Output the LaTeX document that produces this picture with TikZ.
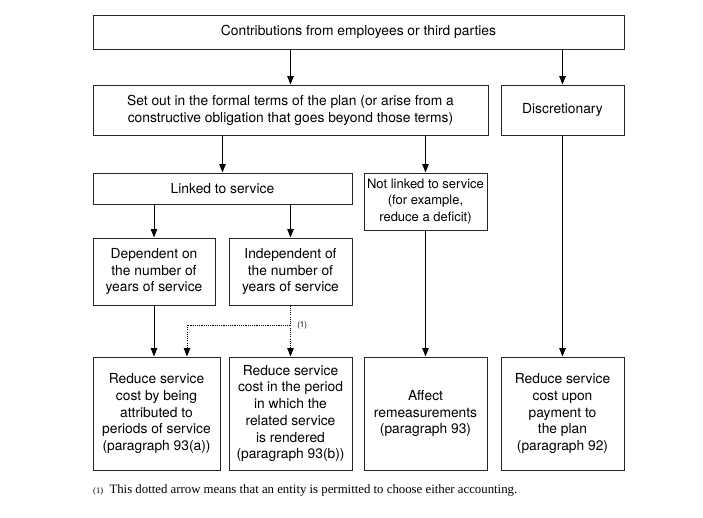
\documentclass[tikz,border=0pt]{standalone}
\usepackage{fontspec}
\setmainfont{TeX Gyre Heros}
\newfontfamily\notefont{Liberation Serif}
\usetikzlibrary{arrows.meta}
\tikzset{
  flowbox/.style={draw=black!85,line width=1pt,align=center,inner sep=1pt,font=\fontsize{13.8}{16.7}\selectfont},
  arr/.style={-{Triangle[length=8.5pt,width=6.5pt]},line width=0.9pt},
  dotarr/.style={arr,dash pattern=on 1.1pt off 1.1pt}
}
\begin{document}
\begin{tikzpicture}[x=1pt,y=-1pt]
    \useasboundingbox (0,0) rectangle (703,517);
    \node[flowbox,minimum width=531pt,minimum height=34pt] (top) at (358.5,32){Contributions from employees or third parties};
    \node[flowbox,minimum width=395pt,minimum height=50pt] (setout) at (290.5,110){Set out in the formal terms of the plan (or arise from a\\constructive obligation that goes beyond those terms)};
    \node[flowbox,minimum width=123pt,minimum height=50pt] (discr) at (562.5,110){Discretionary};
    \node[flowbox,minimum width=259pt,minimum height=31pt] (linked) at (222.5,188.5){Linked to service};
    \node[flowbox,minimum width=123pt,minimum height=57pt,font=\fontsize{13}{16.7}\selectfont] (notlinked) at (425.5,201.5){Not linked to service\\(for example,\\reduce a deficit)};
    \node[flowbox,minimum width=122pt,minimum height=67pt] (dep) at (154,271.5){Dependent on\\the number of\\years of service};
    \node[flowbox,minimum width=123pt,minimum height=67pt] (indep) at (290.5,271.5){Independent of\\the number of\\years of service};
    \node[flowbox,minimum width=127pt,minimum height=113pt] (costa) at (156.5,413.5){Reduce service\\cost by being\\attributed to\\periods of service\\(paragraph 93(a))};
    \node[flowbox,minimum width=123pt,minimum height=113pt] (costb) at (290.5,413.5){Reduce service\\cost in the period\\in which the\\related service\\is rendered\\(paragraph 93(b))};
    \node[flowbox,minimum width=123pt,minimum height=113pt] (remeas) at (425.5,413.5){Affect\\remeasurements\\(paragraph 93)};
    \node[flowbox,minimum width=123pt,minimum height=113pt] (payment) at (562.5,413.5){Reduce service\\cost upon\\payment to\\the plan\\(paragraph 92)};
    \draw[arr] (setout.north |- top.south)--(setout);
    \draw[arr] (discr.north |- top.south)--(discr);
    \draw[arr] (linked.north |- setout.south)--(linked);
    \draw[arr] (notlinked.north |- setout.south)--(notlinked);
    \draw[arr] (dep.north |- linked.south)--(dep);
    \draw[arr] (indep.north |- linked.south)--(indep);
    \draw[arr] (dep)--(dep |- costa.north);
    \draw[arr] (notlinked)--(remeas);
    \draw[arr] (discr)--(payment);
    \draw[dotarr] (indep)--(costb);
    \coordinate (split) at (290.5,325);
    \draw[dotarr] (split) node[right=3pt,font=\fontsize{8}{9}\selectfont]{(1)} -| ([xshift=30.5pt]costa.north);
    \node[anchor=west,inner sep=0pt,font=\notefont\fontsize{12.8}{14}\selectfont] (note) at (93,490){{\fontsize{8.5}{9}\selectfont(1)}\enspace This dotted arrow means that an entity is permitted to choose either accounting.};
\end{tikzpicture}
\end{document}
